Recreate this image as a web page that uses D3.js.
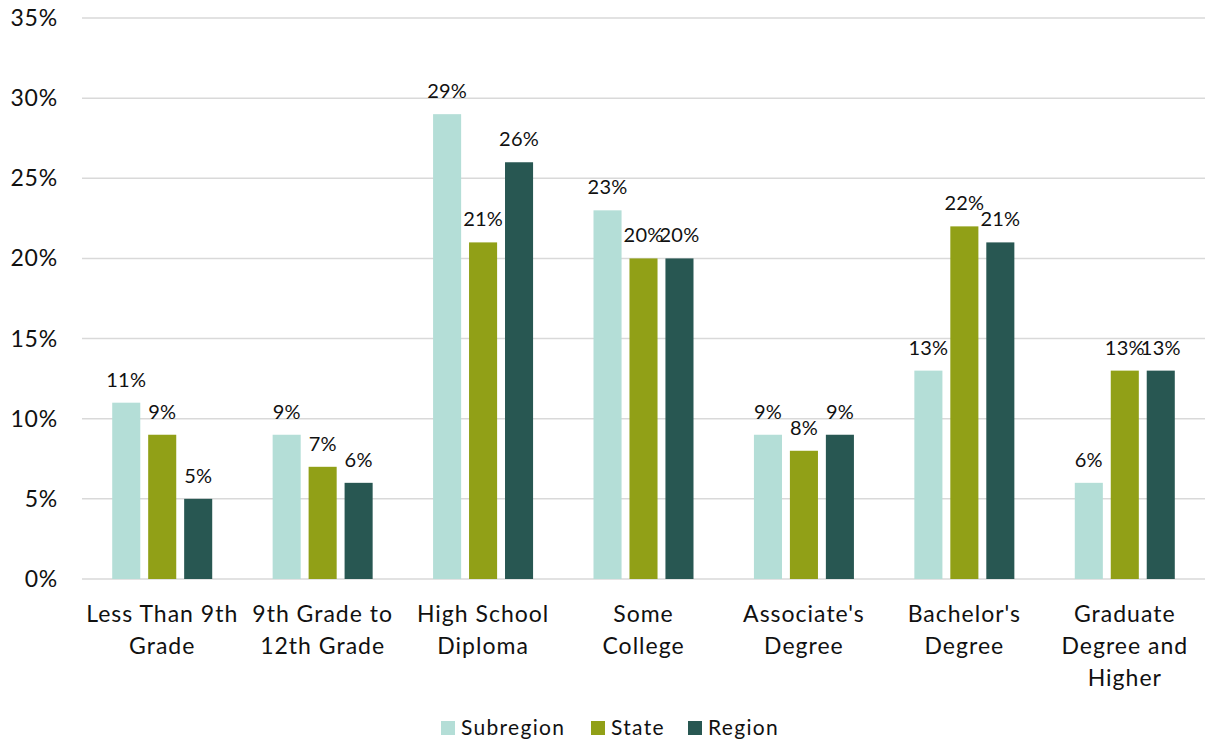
<!DOCTYPE html>
<html>
<head>
<meta charset="utf-8">
<script src="https://cdn.jsdelivr.net/npm/d3@7"></script>
<style>
  body { margin: 0; background: #fff; }
  text { font-family: "Lato", "Open Sans", sans-serif; fill: #111; }
</style>
</head>
<body>
<div id="chart"></div>
<script>
// chart data
const categories = [
  ["Less Than 9th", "Grade"],
  ["9th Grade to", "12th Grade"],
  ["High School", "Diploma"],
  ["Some", "College"],
  ["Associate's", "Degree"],
  ["Bachelor's", "Degree"],
  ["Graduate", "Degree and", "Higher"]
];
const seriesNames = ["Subregion", "State", "Region"];
const subregion = [11, 9, 29, 23, 9, 13, 6];
const state = [9, 7, 21, 20, 8, 22, 13];
const region = [5, 6, 26, 20, 9, 21, 13];
const yTicks = [0, 5, 10, 15, 20, 25, 30, 35];

const colors = ["#b4ded7", "#91a017", "#285752"];

var width = 1209
var height = 742
var margin = {top: 18, right: 4, bottom: 163, left: 82}

var svg = d3.select("#chart")
  .append("svg")
    .attr("width", width)
    .attr("height", height)

var x0 = d3.scaleBand()
  .domain(d3.range(categories.length))
  .range([margin.left, width - margin.right])

var x1 = d3.scaleBand()
  .domain(seriesNames)
  .range([-50, 50])
  .paddingInner(0.22)

var y = d3.scaleLinear()
  .domain([0, 35])
  .range([height - margin.bottom, margin.top])

// gridlines
svg.append("g")
  .selectAll("line")
  .data(yTicks)
  .enter()
  .append("line")
    .attr("x1", margin.left)
    .attr("x2", width - margin.right)
    .attr("y1", d => y(d))
    .attr("y2", d => y(d))
    .attr("stroke", "#d9d9d9")
    .attr("stroke-width", 1.5)

// y tick labels
svg.append("g")
  .selectAll("text")
  .data(yTicks)
  .enter()
  .append("text")
    .attr("x", 58)
    .attr("y", d => y(d) + 8)
    .attr("text-anchor", "end")
    .style("font-size", "23px")
    .style("letter-spacing", "0.8px")
    .text(d => d + "%")

const rows = categories.map((c, i) => ({
  i: i,
  values: [subregion[i], state[i], region[i]]
}))

var groups = svg.selectAll(".grp")
  .data(rows)
  .enter()
  .append("g")
    .attr("transform", d => "translate(" + (x0(d.i) + x0.bandwidth() / 2) + ",0)")

groups.selectAll("rect")
  .data(d => d.values.map((v, k) => ({name: seriesNames[k], v: v, k: k})))
  .enter()
  .append("rect")
    .attr("x", d => x1(d.name))
    .attr("width", x1.bandwidth())
    .attr("y", d => y(d.v))
    .attr("height", d => y(0) - y(d.v))
    .attr("fill", d => colors[d.k])

groups.selectAll(".lbl")
  .data(d => d.values.map((v, k) => ({name: seriesNames[k], v: v})))
  .enter()
  .append("text")
    .attr("class", "lbl")
    .attr("x", d => x1(d.name) + x1.bandwidth() / 2)
    .attr("y", d => y(d.v) - 16)
    .attr("text-anchor", "middle")
    .style("font-size", "20px")
    .style("letter-spacing", "0.2px")
    .text(d => d.v + "%")

// category labels
groups.append("text")
    .attr("text-anchor", "middle")
    .style("font-size", "23px")
    .style("letter-spacing", "1px")
  .selectAll("tspan")
  .data(d => categories[d.i])
  .enter()
  .append("tspan")
    .attr("x", 0)
    .attr("y", (d, j) => 622 + j * 32)
    .text(d => d)

// legend
const legendX = [441, 591, 688]
var legend = svg.append("g")
  .selectAll("g")
  .data(seriesNames)
  .enter()
  .append("g")
    .attr("transform", (d, k) => "translate(" + legendX[k] + ",721)")

legend.append("rect")
  .attr("width", 14)
  .attr("height", 14)
  .attr("fill", (d, k) => colors[k])

legend.append("text")
  .attr("x", 20)
  .attr("y", 14)
  .style("font-size", "21px")
  .style("letter-spacing", "1.3px")
  .text(d => d)
</script>
</body>
</html>
